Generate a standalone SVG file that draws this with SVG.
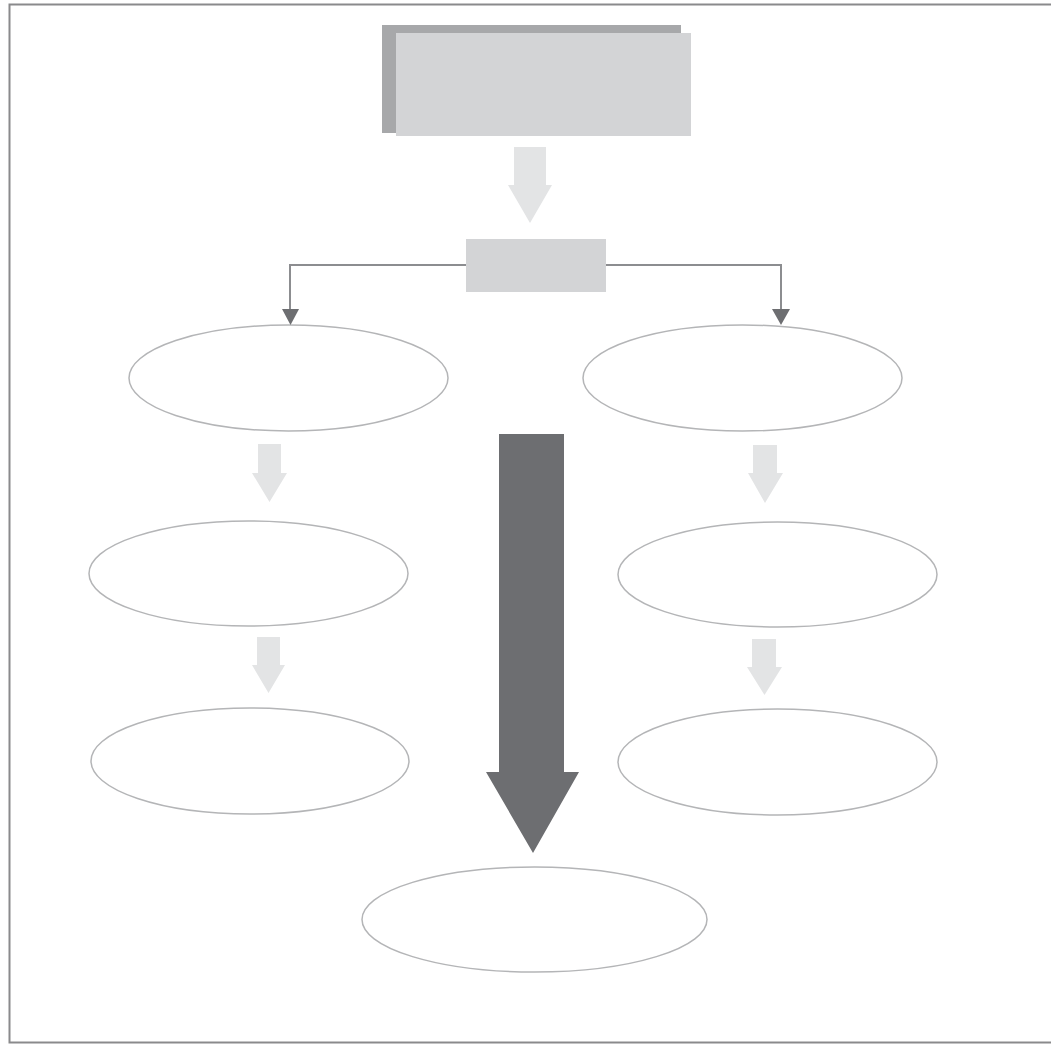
<svg xmlns="http://www.w3.org/2000/svg" width="1051" height="1045" viewBox="0 0 1051 1045">
<style>
.ell{fill:#fff;stroke:#b4b5b7;stroke-width:1.5}
.conn{fill:none;stroke:#8c8d90;stroke-width:2}
.head{fill:#6d6e71}
.light{fill:#e3e4e5}
.box{fill:#d3d4d6}
</style>
<rect width="1051" height="1045" fill="#fff"/>
<rect id="frame" x="9.5" y="4.5" width="1046" height="1038" fill="none" stroke="#8a8a8c" stroke-width="2"/>
<g id="top-box">
<rect x="382" y="25" width="299" height="108" fill="#a7a8aa"/>
<rect x="396" y="33" width="295" height="103" class="box"/>
</g>
<g id="mid-box">
<rect x="466" y="239" width="140" height="53" class="box"/>
</g>
<g id="ellipse-l1"><ellipse cx="288.5" cy="378" rx="159.5" ry="53" class="ell"/></g>
<g id="ellipse-r1"><ellipse cx="742.5" cy="378" rx="159.5" ry="53" class="ell"/></g>
<g id="ellipse-l2"><ellipse cx="248.5" cy="573.5" rx="159.5" ry="52.5" class="ell"/></g>
<g id="ellipse-r2"><ellipse cx="777.5" cy="574.5" rx="159.5" ry="52.5" class="ell"/></g>
<g id="ellipse-l3"><ellipse cx="250" cy="761" rx="159" ry="53" class="ell"/></g>
<g id="ellipse-r3"><ellipse cx="777.5" cy="762" rx="159.5" ry="53" class="ell"/></g>
<g id="ellipse-bottom"><ellipse cx="534.5" cy="919.5" rx="172.5" ry="52.5" class="ell"/></g>
<g id="connectors">
<path class="conn" d="M466 265 H290 V310"/>
<path class="conn" d="M606 265 H781 V310"/>
<polygon class="head" points="282,309 299,309 290.5,325"/>
<polygon class="head" points="772,309 790,309 781,325"/>
<polygon class="light" points="514,147 546,147 546,185 552,185 530,223 508,185 514,185"/>
<polygon class="light" points="258,444 281,444 281,473 287,473 269.5,502 252,473 258,473"/>
<polygon class="light" points="257,637 280,637 280,665 285,665 268.5,693 252,665 257,665"/>
<polygon class="light" points="753,445 777,445 777,473 783,473 765,503 748,473 753,473"/>
<polygon class="light" points="752,639 776,639 776,667 782,667 764.5,695 747,667 752,667"/>
<polygon fill="#6d6e71" points="499,434 564,434 564,772 579,772 533,853 486,772 499,772"/>
</g>
</svg>
